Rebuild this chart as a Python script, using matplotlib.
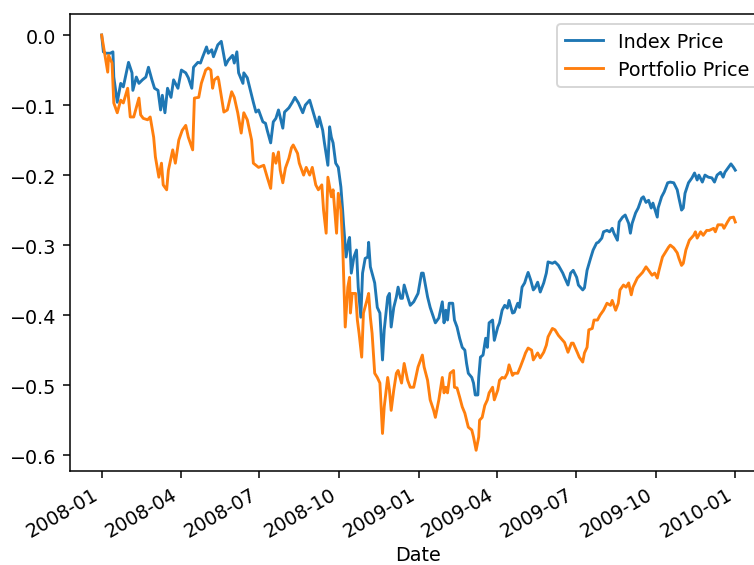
"""Index vs portfolio cumulative return, 2008-2009."""

import matplotlib

matplotlib.use("Agg")
import matplotlib.dates as mdates
import matplotlib.pyplot as plt
import pandas as pd

START = pd.Timestamp("2008-01-01")
DPI = 138

# days since START and cumulative return
index_days = [
    0, 2, 5, 10, 13, 14, 18, 22, 25, 31, 35, 36, 40, 43, 47, 51, 54, 58, 61, 65,
    68, 70, 73, 76, 80, 83, 88, 92, 97, 100, 104, 106, 111, 114, 116, 121, 123, 127, 129, 134,
    138, 143, 146, 151, 153, 156, 158, 163, 164, 168, 172, 175, 178, 181, 186, 189, 191, 195, 198, 201,
    204, 209, 211, 216, 220, 223, 227, 232, 235, 240, 244, 249, 251, 255, 257, 261, 263, 265, 267, 270,
    273, 276, 278, 279, 282, 285, 286, 288, 291, 294, 296, 299, 301, 304, 307, 308, 310, 312, 315, 318,
    321, 324, 326, 330, 332, 334, 337, 340, 342, 345, 347, 349, 353, 356, 360, 365, 369, 371, 376, 379,
    383, 385, 389, 393, 395, 397, 399, 401, 405, 407, 410, 413, 416, 419, 421, 423, 427, 429, 431, 434,
    435, 437, 440, 443, 445, 447, 451, 453, 457, 459, 462, 465, 468, 470, 474, 476, 480, 482, 485, 488,
    490, 492, 495, 498, 500, 503, 506, 510, 513, 515, 520, 523, 527, 532, 534, 538, 541, 544, 548, 550,
    555, 557, 560, 564, 567, 571, 573, 577, 579, 583, 586, 589, 591, 595, 597, 601, 604, 608, 610, 612,
    616, 619, 623, 625, 628, 631, 634, 636, 641, 642, 646, 649, 653, 656, 660, 664, 666, 669, 671, 673,
    677, 681, 684, 687, 689, 693, 696, 700, 704, 707, 710, 714, 717, 719, 723, 726, 729, 731,
]
index_ret = [
    0.000, -0.024, -0.026, -0.026, -0.024, -0.060, -0.096, -0.069, -0.074, -0.039,
    -0.054, -0.079, -0.060, -0.069, -0.064, -0.060, -0.046, -0.064, -0.076, -0.079,
    -0.107, -0.086, -0.111, -0.076, -0.089, -0.064, -0.076, -0.050, -0.054, -0.061,
    -0.076, -0.046, -0.039, -0.040, -0.033, -0.017, -0.026, -0.021, -0.031, -0.014,
    -0.009, -0.043, -0.036, -0.029, -0.040, -0.024, -0.054, -0.069, -0.054, -0.061,
    -0.081, -0.096, -0.110, -0.107, -0.124, -0.126, -0.136, -0.154, -0.124, -0.119,
    -0.107, -0.133, -0.110, -0.104, -0.096, -0.089, -0.097, -0.111, -0.100, -0.093,
    -0.110, -0.131, -0.117, -0.136, -0.154, -0.186, -0.131, -0.146, -0.154, -0.183,
    -0.189, -0.217, -0.250, -0.269, -0.317, -0.293, -0.289, -0.340, -0.317, -0.307,
    -0.360, -0.403, -0.340, -0.319, -0.317, -0.296, -0.331, -0.340, -0.354, -0.389,
    -0.397, -0.464, -0.421, -0.374, -0.369, -0.417, -0.389, -0.374, -0.360, -0.376,
    -0.376, -0.357, -0.374, -0.386, -0.381, -0.369, -0.340, -0.340, -0.374, -0.389,
    -0.404, -0.411, -0.404, -0.381, -0.411, -0.393, -0.407, -0.383, -0.383, -0.407,
    -0.417, -0.433, -0.446, -0.450, -0.469, -0.483, -0.489, -0.497, -0.514, -0.514,
    -0.489, -0.460, -0.457, -0.433, -0.446, -0.411, -0.407, -0.436, -0.417, -0.411,
    -0.393, -0.386, -0.390, -0.379, -0.397, -0.396, -0.383, -0.389, -0.360, -0.354,
    -0.346, -0.339, -0.350, -0.364, -0.361, -0.353, -0.367, -0.354, -0.340, -0.324,
    -0.326, -0.324, -0.329, -0.340, -0.346, -0.357, -0.340, -0.336, -0.346, -0.357,
    -0.364, -0.361, -0.336, -0.319, -0.307, -0.297, -0.296, -0.290, -0.281, -0.279,
    -0.281, -0.276, -0.283, -0.293, -0.267, -0.260, -0.257, -0.269, -0.283, -0.269,
    -0.254, -0.247, -0.233, -0.231, -0.239, -0.236, -0.247, -0.240, -0.260, -0.247,
    -0.231, -0.224, -0.211, -0.210, -0.211, -0.221, -0.233, -0.250, -0.247, -0.226,
    -0.211, -0.204, -0.197, -0.207, -0.200, -0.210, -0.200, -0.203, -0.204, -0.210,
    -0.200, -0.196, -0.203, -0.196, -0.189, -0.184, -0.189, -0.193,
]

port_days = [
    0, 7, 8, 12, 14, 18, 22, 25, 30, 33, 37, 43, 45, 48, 53, 56, 60, 62, 66, 69,
    71, 75, 77, 82, 85, 89, 93, 97, 100, 105, 107, 112, 115, 120, 123, 126, 128, 130, 134, 135,
    141, 145, 150, 153, 157, 161, 164, 168, 173, 175, 181, 187, 191, 195, 198, 201, 204, 206, 209, 212,
    216, 219, 221, 226, 228, 233, 236, 240, 243, 247, 250, 254, 256, 259, 261, 265, 267, 271, 273, 276,
    278, 281, 284, 286, 287, 289, 293, 295, 297, 300, 302, 306, 308, 310, 312, 315, 318, 321, 324, 326,
    330, 332, 334, 337, 340, 342, 346, 349, 353, 356, 360, 365, 370, 372, 376, 379, 383, 385, 389, 393,
    395, 397, 399, 402, 406, 407, 410, 413, 416, 419, 421, 423, 427, 429, 432, 435, 436, 439, 442, 445,
    447, 451, 453, 457, 459, 462, 465, 468, 470, 474, 476, 480, 483, 487, 489, 492, 496, 498, 503, 506,
    510, 513, 515, 520, 523, 527, 532, 534, 538, 542, 544, 549, 551, 555, 557, 560, 562, 566, 568, 572,
    575, 579, 583, 587, 589, 593, 596, 598, 602, 605, 608, 611, 613, 618, 621, 624, 628, 631, 635, 638,
    641, 643, 647, 650, 654, 656, 660, 664, 666, 669, 671, 674, 678, 683, 685, 687, 691, 694, 698, 701,
    706, 708, 711, 716, 718, 722, 725, 729, 731,
]
port_ret = [
    0.000, -0.053, -0.029, -0.040, -0.097, -0.111, -0.093, -0.097, -0.076, -0.117,
    -0.117, -0.090, -0.114, -0.119, -0.121, -0.117, -0.146, -0.174, -0.203, -0.183,
    -0.214, -0.221, -0.193, -0.164, -0.183, -0.150, -0.136, -0.129, -0.146, -0.164,
    -0.090, -0.089, -0.069, -0.050, -0.047, -0.050, -0.076, -0.064, -0.060, -0.064,
    -0.110, -0.107, -0.081, -0.089, -0.111, -0.140, -0.111, -0.121, -0.150, -0.183,
    -0.189, -0.186, -0.203, -0.219, -0.169, -0.183, -0.167, -0.193, -0.211, -0.190,
    -0.176, -0.161, -0.157, -0.169, -0.183, -0.200, -0.189, -0.200, -0.189, -0.214,
    -0.221, -0.214, -0.250, -0.283, -0.203, -0.231, -0.221, -0.283, -0.226, -0.250,
    -0.297, -0.417, -0.360, -0.346, -0.397, -0.369, -0.369, -0.407, -0.426, -0.460,
    -0.397, -0.379, -0.369, -0.403, -0.426, -0.483, -0.489, -0.497, -0.569, -0.531,
    -0.489, -0.507, -0.536, -0.507, -0.483, -0.479, -0.497, -0.469, -0.493, -0.503,
    -0.503, -0.474, -0.457, -0.474, -0.493, -0.521, -0.536, -0.546, -0.521, -0.489,
    -0.511, -0.503, -0.511, -0.483, -0.479, -0.503, -0.504, -0.517, -0.531, -0.540,
    -0.550, -0.560, -0.564, -0.574, -0.593, -0.574, -0.550, -0.546, -0.529, -0.521,
    -0.511, -0.503, -0.521, -0.507, -0.493, -0.489, -0.490, -0.483, -0.471, -0.486,
    -0.483, -0.483, -0.474, -0.461, -0.454, -0.447, -0.450, -0.464, -0.454, -0.461,
    -0.453, -0.443, -0.431, -0.419, -0.421, -0.429, -0.436, -0.439, -0.453, -0.440,
    -0.440, -0.454, -0.460, -0.467, -0.454, -0.446, -0.421, -0.419, -0.407, -0.407,
    -0.400, -0.393, -0.383, -0.386, -0.379, -0.393, -0.383, -0.364, -0.357, -0.360,
    -0.354, -0.371, -0.360, -0.347, -0.343, -0.339, -0.331, -0.336, -0.343, -0.340,
    -0.347, -0.336, -0.317, -0.311, -0.303, -0.300, -0.304, -0.311, -0.319, -0.329,
    -0.326, -0.307, -0.293, -0.286, -0.281, -0.290, -0.281, -0.286, -0.279, -0.279,
    -0.276, -0.281, -0.271, -0.271, -0.276, -0.267, -0.261, -0.260, -0.267,
]


def to_dates(days):
    return START + pd.to_timedelta(days, unit="D")


def main() -> None:
    fig = plt.figure(figsize=(754 / DPI, 566 / DPI), dpi=DPI)
    # right spine sits past the canvas edge, as in the cropped original
    ax = fig.add_axes([0.0928, 0.166, 0.9244, 0.807])

    ax.plot(to_dates(index_days), index_ret, color="#1f77b4", label="Index Price")
    ax.plot(to_dates(port_days), port_ret, color="#ff7f0e", label="Portfolio Price")

    ax.xaxis.set_major_locator(mdates.MonthLocator(bymonth=[1, 4, 7, 10]))
    ax.xaxis.set_major_formatter(mdates.DateFormatter("%Y-%m"))
    plt.setp(ax.get_xticklabels(), rotation=30, ha="right")
    ax.set_xlabel("Date", labelpad=2)
    ax.legend(loc="upper right")

    fig.savefig("out.png", dpi=DPI)
    plt.close(fig)


if __name__ == "__main__":
    main()
